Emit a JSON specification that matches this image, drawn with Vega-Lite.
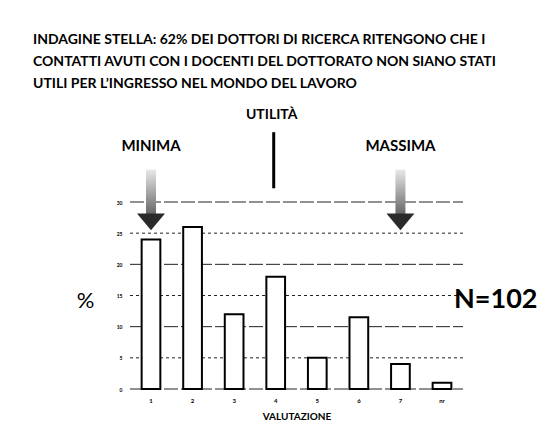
{
  "$schema": "https://vega.github.io/schema/vega-lite/v6.json",
  "autosize": "none",
  "width": 333,
  "height": 187,
  "padding": {"left": 130, "top": 202, "right": 97, "bottom": 40},
  "background": "white",
  "config": {
    "view": {"stroke": null},
    "font": "Lato",
    "text": {"font": "Lato"},
    "axisY": {
      "labelOverlap": false,
      "titleAngle": 0,
      "titleX": -45,
      "titleY": 98,
      "titleAlign": "center",
      "titleBaseline": "middle",
      "titleFontSize": 22,
      "titleFontWeight": "normal",
      "titleColor": "black",
      "labelFontSize": 5,
      "labelFontWeight": "bold",
      "labelColor": "black",
      "labelPadding": 8,
      "domain": false,
      "ticks": false,
      "grid": false
    }
  },
  "title": {
    "text": [
      "INDAGINE STELLA:  62% DEI DOTTORI DI RICERCA RITENGONO CHE I",
      "CONTATTI AVUTI CON I DOCENTI DEL DOTTORATO NON SIANO STATI",
      "UTILI PER L’INGRESSO NEL MONDO DEL LAVORO"
    ],
    "anchor": "start",
    "frame": "group",
    "dx": -97,
    "font": "Lato",
    "fontSize": 14,
    "fontWeight": "bold",
    "lineHeight": 22,
    "color": "black",
    "offset": 17
  },
  "datasets": {
    "grid": [
      {"g": 0}, {"g": 5}, {"g": 10}, {"g": 15}, {"g": 20}, {"g": 25}, {"g": 30}
    ],
    "bars": [
      {"valutazione": "1", "pct": 24},
      {"valutazione": "2", "pct": 26},
      {"valutazione": "3", "pct": 12},
      {"valutazione": "4", "pct": 18},
      {"valutazione": "5", "pct": 5},
      {"valutazione": "6", "pct": 11.5},
      {"valutazione": "7", "pct": 4},
      {"valutazione": "nr", "pct": 1}
    ],
    "ends": [
      {"valutazione": "1", "label": "MINIMA"},
      {"valutazione": "7", "label": "MASSIMA"}
    ],
    "centre": [
      {"valutazione": "4", "label": "UTILITÀ"}
    ],
    "total": [
      {"valutazione": "nr", "label": "N=102"}
    ]
  },
  "layer": [
    {
      "data": {"name": "grid"},
      "mark": {"type": "rule", "color": "#222", "strokeWidth": 1},
      "encoding": {
        "x": {"value": 0},
        "x2": {"value": {"expr": "width"}},
        "y": {"field": "g", "type": "quantitative", "axis": {"title": "%", "values": [0, 5, 10, 15, 20, 25, 30]}},
        "strokeDash": {"condition": {"test": "datum.g % 10 == 5", "value": [3, 3]}, "value": [14, 3]}
      }
    },
    {
      "data": {"name": "bars"},
      "mark": {"type": "bar", "fill": "white", "stroke": "black", "strokeWidth": 2},
      "encoding": {
        "x": {
          "field": "valutazione",
          "type": "nominal",
          "sort": null,
          "scale": {"domain": ["1","2","3","4","5","6","7","nr"], "paddingInner": 0.55, "paddingOuter": 0.28},
          "axis": {
            "title": "VALUTAZIONE",
            "labelAngle": 0,
            "labelFontSize": 6,
            "labelFontWeight": "bold",
            "labelPadding": 8,
            "domain": false,
            "ticks": false,
            "titleFontSize": 10,
            "titleFontWeight": "bold",
            "titlePadding": 8,
            "titleColor": "black",
            "labelColor": "black"
          }
        },
        "y": {
          "field": "pct",
          "type": "quantitative",
          "scale": {"domain": [0, 30], "nice": false},
          "axis": {"title": "%", "values": [0, 5, 10, 15, 20, 25, 30]}
        }
      }
    },
    {
      "data": {"name": "ends"},
      "mark": {"type": "bar", "width": 10, "fill": {"gradient": "linear", "x1": 0, "y1": 0, "x2": 0, "y2": 1, "stops": [{"offset": 0, "color": "#e8e8e8"}, {"offset": 1, "color": "#666"}]}},
      "encoding": {
        "x": {"field": "valutazione", "type": "nominal"},
        "y": {"datum": 35.2, "axis": {"title": "%", "values": [0, 5, 10, 15, 20, 25, 30]}},
        "y2": {"datum": 28}
      }
    },
    {
      "data": {"name": "ends"},
      "mark": {"type": "point", "shape": "M-1,-0.6L1,-0.6L0,0.6Z", "size": 784, "filled": true, "color": "#2a2a2a", "opacity": 1},
      "encoding": {
        "x": {"field": "valutazione", "type": "nominal"},
        "y": {"datum": 26.8, "axis": {"title": "%", "values": [0, 5, 10, 15, 20, 25, 30]}}
      }
    },
    {
      "data": {"name": "ends"},
      "mark": {"type": "text", "fontSize": 15, "fontWeight": "bold", "color": "black", "baseline": "middle"},
      "encoding": {
        "x": {"field": "valutazione", "type": "nominal"},
        "y": {"datum": 39, "axis": {"title": "%", "values": [0, 5, 10, 15, 20, 25, 30]}},
        "text": {"field": "label"}
      }
    },
    {
      "data": {"name": "centre"},
      "mark": {"type": "text", "fontSize": 14, "fontWeight": "bold", "color": "black", "baseline": "middle", "dx": -4},
      "encoding": {
        "x": {"field": "valutazione", "type": "nominal"},
        "y": {"datum": 43.9, "axis": {"title": "%", "values": [0, 5, 10, 15, 20, 25, 30]}},
        "text": {"field": "label"}
      }
    },
    {
      "data": {"name": "centre"},
      "mark": {"type": "rule", "strokeWidth": 3, "color": "black", "xOffset": -2},
      "encoding": {
        "x": {"field": "valutazione", "type": "nominal"},
        "y": {"datum": 32.2, "axis": {"title": "%", "values": [0, 5, 10, 15, 20, 25, 30]}},
        "y2": {"datum": 41.2}
      }
    },
    {
      "data": {"name": "total"},
      "mark": {"type": "text", "fontSize": 27, "fontWeight": "bold", "color": "black", "align": "left", "baseline": "middle", "dx": 12},
      "encoding": {
        "x": {"field": "valutazione", "type": "nominal"},
        "y": {"datum": 14.3, "axis": {"title": "%", "values": [0, 5, 10, 15, 20, 25, 30]}},
        "text": {"field": "label"}
      }
    }
  ]
}
